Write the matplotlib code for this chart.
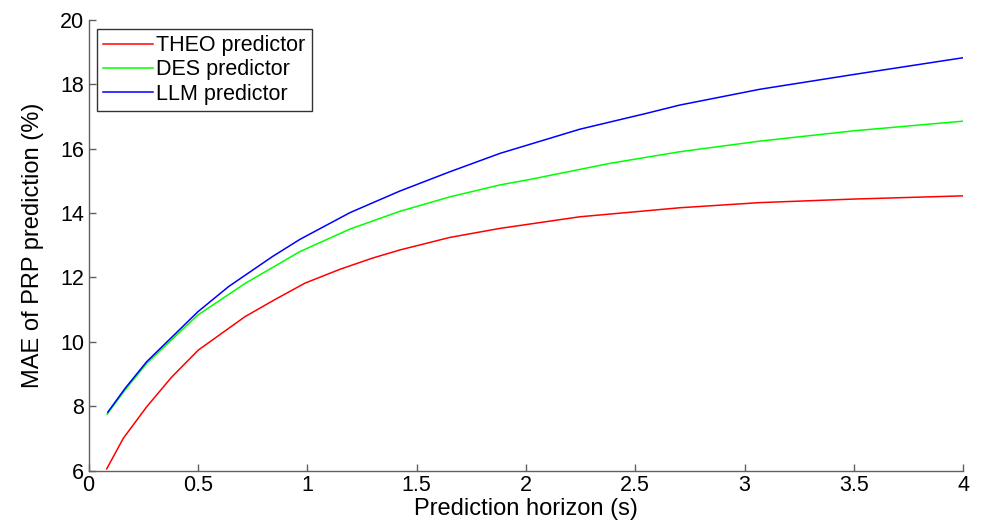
import matplotlib
matplotlib.use("Agg")
import matplotlib.pyplot as plt

plt.rcParams['font.family'] = ['Liberation Sans', 'DejaVu Sans']

# THEO predictor
theo_x = [0.083, 0.159, 0.266, 0.38, 0.502, 0.716, 0.85, 0.99, 1.15, 1.3, 1.424, 1.653, 1.882, 2.247, 2.704, 3.07, 3.5, 4.0]
theo_y = [6.05, 7.0, 7.98, 8.9, 9.74, 10.78, 11.3, 11.82, 12.25, 12.6, 12.85, 13.24, 13.52, 13.88, 14.16, 14.32, 14.43, 14.53]

# DES predictor
des_x = [0.085, 0.167, 0.266, 0.5, 0.716, 0.967, 1.196, 1.424, 1.653, 1.882, 2.019, 2.385, 2.704, 3.07, 3.5, 4.0]
des_y = [7.75, 8.5, 9.33, 10.83, 11.81, 12.8, 13.5, 14.05, 14.5, 14.87, 15.04, 15.54, 15.9, 16.23, 16.55, 16.85]

# LLM predictor
llm_x = [0.088, 0.167, 0.266, 0.5, 0.64, 0.84, 0.967, 1.196, 1.424, 1.653, 1.882, 2.247, 2.55, 2.704, 3.07, 3.5, 4.0]
llm_y = [7.81, 8.55, 9.38, 10.93, 11.71, 12.64, 13.18, 14.01, 14.68, 15.28, 15.85, 16.6, 17.09, 17.35, 17.84, 18.3, 18.82]

labels = ["THEO predictor", "DES predictor", "LLM predictor"]
xticks = [0, 0.5, 1, 1.5, 2, 2.5, 3, 3.5, 4]
xticklabels = ["0", "0.5", "1", "1.5", "2", "2.5", "3", "3.5", "4"]
yticks = [6, 8, 10, 12, 14, 16, 18, 20]

fig = plt.figure(figsize=(9.87, 5.27), dpi=100)
ax = fig.add_axes([0.0897, 0.1072, 0.8863, 0.8554])

ax.plot(theo_x, theo_y, color=(1, 0, 0), lw=1.1, label=labels[0])
ax.plot(des_x, des_y, color=(0, 1, 0), lw=1.1, label=labels[1])
ax.plot(llm_x, llm_y, color=(0, 0, 1), lw=1.1, label=labels[2])

ax.set_xlim(0, 4)
ax.set_ylim(6, 20)
ax.set_xticks(xticks)
ax.set_xticklabels(xticklabels)
ax.set_yticks(yticks)

grey = '#606060'
for s in ['top', 'right']:
    ax.spines[s].set_visible(False)
for s in ['left', 'bottom']:
    ax.spines[s].set_color(grey)
    ax.spines[s].set_linewidth(1.0)
ax.tick_params(direction='in', length=5, width=1.0, color=grey, labelsize=15.5, labelcolor='black', pad=3)

ax.set_xlabel("Prediction horizon (s)", fontsize=17, labelpad=2)
ax.set_ylabel("MAE of PRP prediction (%)", fontsize=17, labelpad=12)

leg = ax.legend(loc='upper left', bbox_to_anchor=(0.0094, 0.98), borderaxespad=0,
                fontsize=15.5, frameon=True, fancybox=False, edgecolor='black',
                handlelength=2.3, handletextpad=0.15, labelspacing=0.15, borderpad=0.3)
leg.get_frame().set_linewidth(1.0)

fig.savefig("out.png", dpi=100)
